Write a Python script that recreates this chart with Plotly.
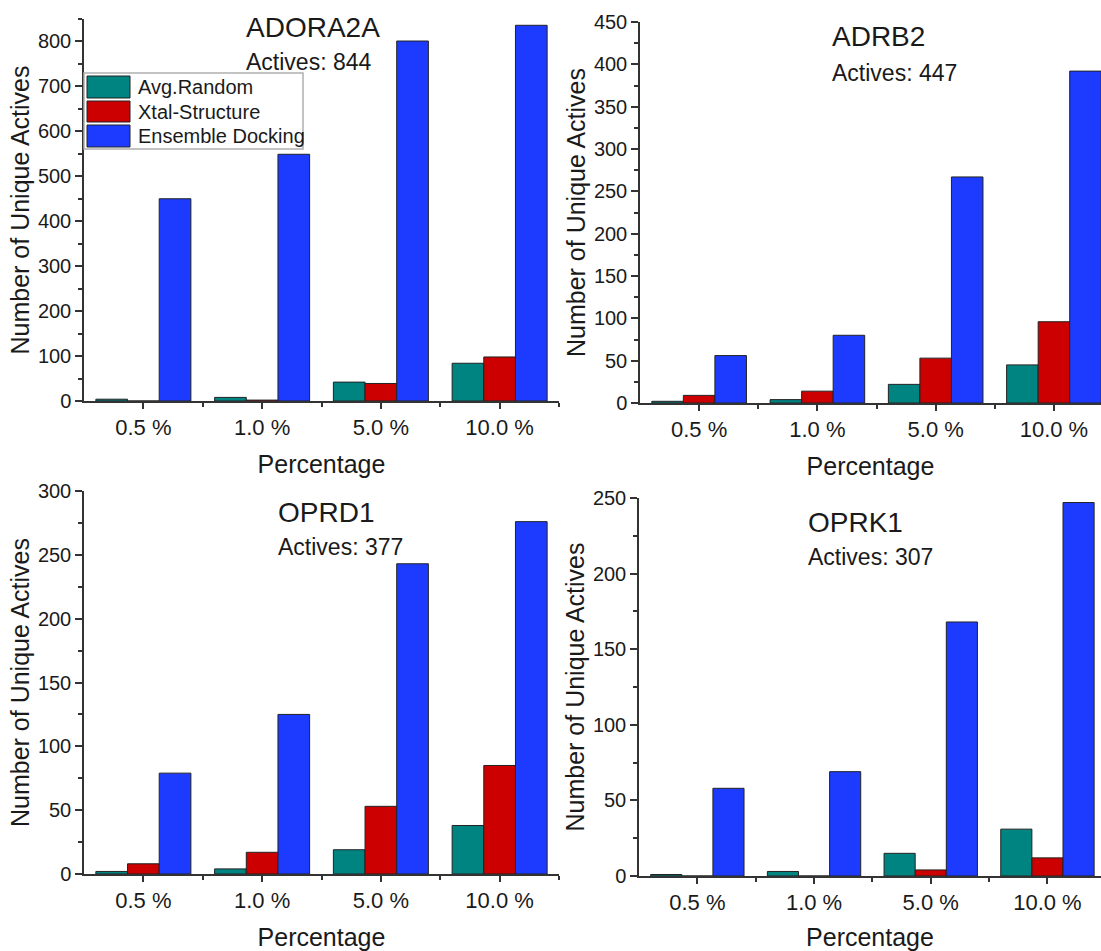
import plotly.graph_objects as go

# ---- data ----
categories = ["0.5 %", "1.0 %", "5.0 %", "10.0 %"]
series_names = ["Avg.Random", "Xtal-Structure", "Ensemble Docking"]
targets = ["ADORA2A", "ADRB2", "OPRD1", "OPRK1"]
actives = [844, 447, 377, 307]

adora2a_random = [4, 8, 42, 84]
adora2a_xtal = [0, 2, 39, 98]
adora2a_ensemble = [450, 549, 801, 836]

adrb2_random = [2, 4, 22, 45]
adrb2_xtal = [9, 14, 53, 96]
adrb2_ensemble = [56, 80, 267, 392]

oprd1_random = [2, 4, 19, 38]
oprd1_xtal = [8, 17, 53, 85]
oprd1_ensemble = [79, 125, 243, 276]

oprk1_random = [1, 3, 15, 31]
oprk1_xtal = [0, 0, 4, 12]
oprk1_ensemble = [58, 69, 168, 247]

panel_values = [
    (adora2a_random, adora2a_xtal, adora2a_ensemble),
    (adrb2_random, adrb2_xtal, adrb2_ensemble),
    (oprd1_random, oprd1_xtal, oprd1_ensemble),
    (oprk1_random, oprk1_xtal, oprk1_ensemble),
]

# ---- styling / layout ----
W, H = 1101, 951
FONT = "Liberation Sans, Arial, sans-serif"
TEXT = "#1a1a1a"
AXIS = "#333333"
colors = ["#008482", "#cc0000", "#1c3bff"]


def px(x):
    return x / W


def py(y):
    return 1 - y / H


# left, right, top, bottom (pixels), x upper limit, y max, y major step
panels = [
    dict(l=84, r=559, t=19, b=401, xmax=3.5, ymax=850, dy=100),
    dict(l=640, r=1101, t=22, b=403, xmax=3.398, ymax=450, dy=50),
    dict(l=84, r=559, t=491, b=874, xmax=3.5, ymax=300, dy=50),
    dict(l=639, r=1101, t=498, b=876, xmax=3.459, ymax=250, dy=50),
]
# title label anchors: left x, title centre y, "Actives" centre y
label_pos = [(244, 27, 62), (830, 37, 73), (276, 512, 547), (806, 522, 557)]

xpos = list(range(len(categories)))

fig = go.Figure()
layout = {}
annotations = []
shapes = []

for i, (p, vals) in enumerate(zip(panels, panel_values)):
    n = "" if i == 0 else str(i + 1)
    xa, ya = "x" + n, "y" + n
    for s, (name, v) in enumerate(zip(series_names, vals)):
        fig.add_trace(go.Bar(
            x=xpos, y=v, name=name, xaxis=xa, yaxis=ya,
            marker=dict(color=colors[s], line=dict(color="#222222", width=1)),
            showlegend=False,
        ))
    layout["xaxis" + n] = dict(
        domain=[px(p["l"]), px(p["r"])], anchor=ya,
        range=[-0.5, p["xmax"]], automargin=False,
        tickmode="array", tickvals=xpos, ticktext=categories,
        ticks="outside", ticklen=6, tickwidth=1.5, tickcolor=AXIS,
        minor=dict(tickmode="array", tickvals=[0.5, 1.5, 2.5, 3.5],
                   ticks="outside", ticklen=4, tickwidth=1.5, tickcolor=AXIS),
        showline=True, linecolor=AXIS, linewidth=1.5,
        showgrid=False, zeroline=False,
        tickfont=dict(family=FONT, size=22, color=TEXT),
        title=dict(text="Percentage", standoff=16,
                   font=dict(family=FONT, size=25, color=TEXT)),
    )
    layout["yaxis" + n] = dict(
        domain=[py(p["b"]), py(p["t"])], anchor=xa,
        range=[0, p["ymax"]], automargin=False,
        tick0=0, dtick=p["dy"],
        ticks="outside", ticklen=7, tickwidth=1.5, tickcolor=AXIS,
        minor=dict(dtick=p["dy"] / 2, tick0=0, ticks="outside",
                   ticklen=4, tickwidth=1.5, tickcolor=AXIS),
        showline=True, linecolor=AXIS, linewidth=1.5,
        showgrid=False, zeroline=False,
        tickfont=dict(family=FONT, size=20, color=TEXT),
        title=dict(text="Number of Unique Actives", standoff=1,
                   font=dict(family=FONT, size=25, color=TEXT)),
    )
    lx, ty, ay = label_pos[i]
    annotations.append(dict(
        text=targets[i], x=px(lx), y=py(ty), xref="paper", yref="paper",
        xanchor="left", yanchor="middle", showarrow=False,
        font=dict(family=FONT, size=28, color=TEXT)))
    annotations.append(dict(
        text=f"Actives: {actives[i]}", x=px(lx), y=py(ay), xref="paper", yref="paper",
        xanchor="left", yanchor="middle", showarrow=False,
        font=dict(family=FONT, size=23, color=TEXT)))

# legend box drawn in the first panel
box_l, box_t, box_r, box_b = 84, 73, 303, 149
shapes.append(dict(type="rect", xref="paper", yref="paper",
                   x0=px(box_l), x1=px(box_r), y0=py(box_b), y1=py(box_t),
                   fillcolor="white", line=dict(color="#b0b0b0", width=1.5), layer="above"))
swatch_rows = [(76, 98), (101, 122), (125, 147)]
for s, (y0, y1) in enumerate(swatch_rows):
    shapes.append(dict(type="rect", xref="paper", yref="paper",
                       x0=px(87), x1=px(130), y0=py(y1), y1=py(y0),
                       fillcolor=colors[s], line=dict(color="#222222", width=1), layer="above"))
    annotations.append(dict(
        text=series_names[s], x=px(136), y=py((y0 + y1) / 2), xref="paper", yref="paper",
        xanchor="left", yanchor="middle", showarrow=False,
        font=dict(family=FONT, size=20, color=TEXT)))

fig.update_layout(
    width=W, height=H,
    margin=dict(l=0, r=0, t=0, b=0, autoexpand=False),
    paper_bgcolor="white", plot_bgcolor="white",
    barmode="group", bargap=0.2, bargroupgap=0,
    annotations=annotations, shapes=shapes,
    showlegend=False,
    **layout,
)

fig.write_html("out.html")
